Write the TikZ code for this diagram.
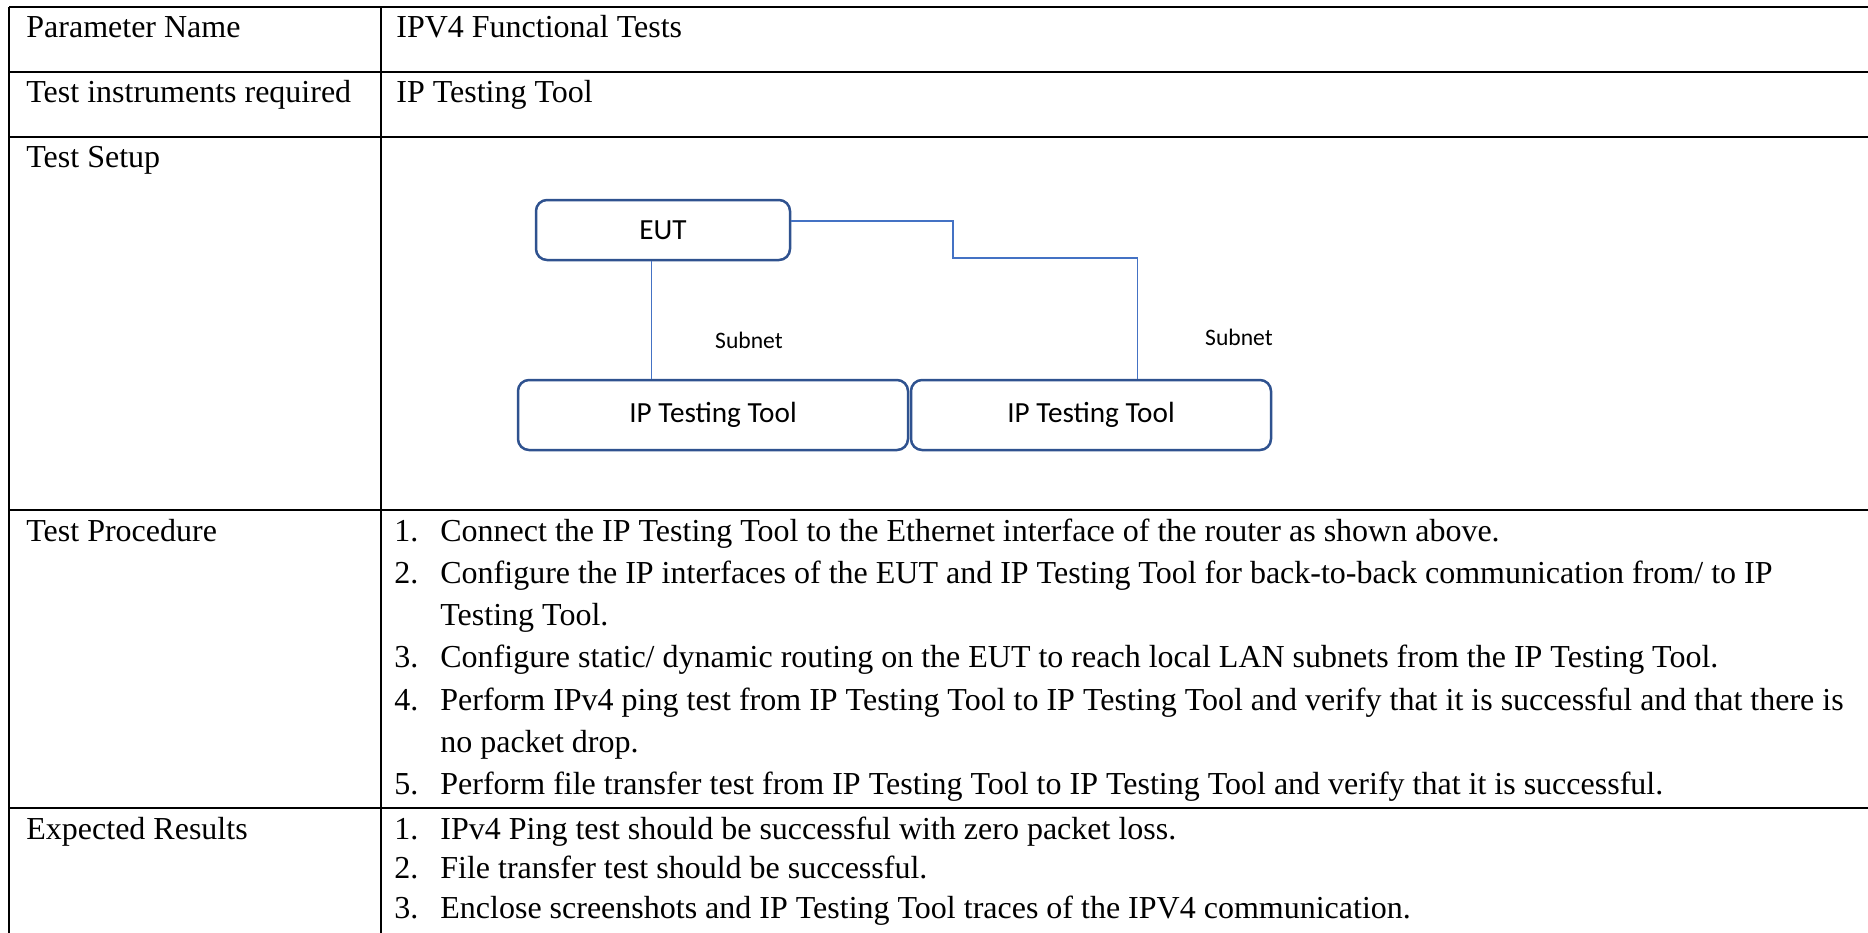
\documentclass[tikz,border=0pt]{standalone}
\usepackage{fontspec}
\setmainfont{Liberation Serif}
\newfontfamily\diagfont{Carlito}
\definecolor{boxblue}{RGB}{47,82,143}
\definecolor{wireblue}{RGB}{68,114,196}
\begin{document}
\begin{tikzpicture}[x=0.5pt,y=-0.5pt,
  rule/.style={line width=1.2pt,black},
  cell/.style={anchor=base west,inner sep=0pt,font=\fontsize{16}{19}\selectfont},
  box/.style={draw=boxblue,line width=1.25pt,rounded corners=5.5pt,fill=white,
    inner sep=0pt,font=\diagfont\fontsize{14.6}{17}\selectfont},
  wire/.style={draw=wireblue,line width=0.6pt},
  sublabel/.style={inner sep=0pt,font=\diagfont\fontsize{11.8}{14}\selectfont}]
\useasboundingbox (0,0) rectangle (1868,932);

% table rules
\draw[rule] (9,7) -- (1870,7);
\draw[rule] (9,72) -- (1870,72);
\draw[rule] (9,137) -- (1870,137);
\draw[rule] (9,510) -- (1870,510);
\draw[rule] (9,808) -- (1870,808);
\draw[rule] (9,7) -- (9,934);
\draw[rule] (381,7) -- (381,934);

% left column
\node[cell] (hParam) at (26,37) {Parameter Name};
\node[cell] (hInstr) at (26,102) {Test instruments required};
\node[cell] (hSetup) at (26,167) {Test Setup};
\node[cell] (hProc) at (26,541) {Test Procedure};
\node[cell] (hRes) at (26,839) {Expected Results};

% right column
\node[cell] (vParam) at (396,37) {IPV4 Functional Tests};
\node[cell] (vInstr) at (396,102) {IP Testing Tool};

% procedure steps
\node[cell] (p1n) at (394,541) {1.};
\node[cell] (p1) at (440,541) {Connect the IP Testing Tool to the Ethernet interface of the router as shown above.};
\node[cell] (p2n) at (394,583.3) {2.};
\node[cell] (p2) at (440,583.3) {Configure the IP interfaces of the EUT and IP Testing Tool for back-to-back communication from/ to IP};
\node[cell] (p2b) at (440,625.6) {Testing Tool.};
\node[cell] (p3n) at (394,667.9) {3.};
\node[cell] (p3) at (440,667.9) {Configure static/ dynamic routing on the EUT to reach local LAN subnets from the IP Testing Tool.};
\node[cell] (p4n) at (394,710.2) {4.};
\node[cell] (p4) at (440,710.2) {Perform IPv4 ping test from IP Testing Tool to IP Testing Tool and verify that it is successful and that there is};
\node[cell] (p4b) at (440,752.5) {no packet drop.};
\node[cell] (p5n) at (394,794.8) {5.};
\node[cell] (p5) at (440,794.8) {Perform file transfer test from IP Testing Tool to IP Testing Tool and verify that it is successful.};

% expected results
\node[cell] (r1n) at (394,839) {1.};
\node[cell] (r1) at (440,839) {IPv4 Ping test should be successful with zero packet loss.};
\node[cell] (r2n) at (394,878.5) {2.};
\node[cell] (r2) at (440,878.5) {File transfer test should be successful.};
\node[cell] (r3n) at (394,918) {3.};
\node[cell] (r3) at (440,918) {Enclose screenshots and IP Testing Tool traces of the IPV4 communication.};

% test setup diagram
\node[box,minimum width=127pt,minimum height=30pt] (eut) at (663,230) {EUT};
\node[box,minimum width=195pt,minimum height=35pt] (ipl) at (713,415) {IP Testing Tool};
\node[box,minimum width=180pt,minimum height=35pt] (ipr) at (1091,415) {IP Testing Tool};

\draw[wire] ([xshift=58.5pt]eut.south west) -- ([xshift=67.5pt]ipl.north west);
\draw[wire] ([yshift=4.5pt]eut.east) -| (953,258) -| ([xshift=114pt]ipr.north west);

\node[sublabel] (sub1) at (749,340) {Subnet};
\node[sublabel] (sub2) at (1239,337) {Subnet};
\end{tikzpicture}
\end{document}
